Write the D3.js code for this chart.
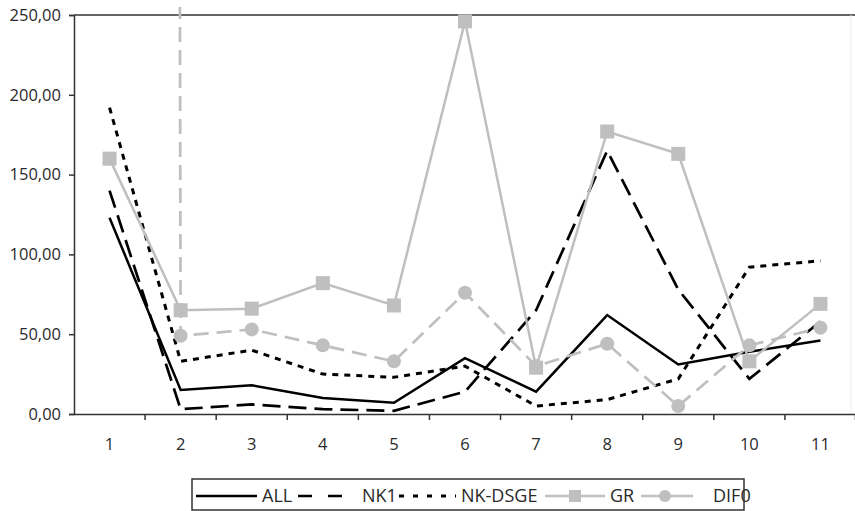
<!DOCTYPE html>
<html><head><meta charset="utf-8">
<script src="https://cdn.jsdelivr.net/npm/d3@7"></script>
<style>body{margin:0;background:#fff}svg{display:block}</style>
</head><body><svg id="c" width="855" height="511"></svg>
<script>
const categories = ["1","2","3","4","5","6","7","8","9","10","11"];
const ALL    = [123, 15, 18, 10, 7, 35, 14, 62, 31, 39, 46];
const NK1    = [140, 3, 6, 3, 2, 14, 65, 165, 78, 22, 58];
const NKDSGE = [192, 33, 40, 25, 23, 30, 5, 9, 22, 92, 96];
const GR     = [160, 65, 66, 82, 68, 246, 29, 177, 163, 33, 69];
const DIF0   = [20000, 49, 53, 43, 33, 76, 30, 44, 5, 43, 54];
const yTicks = [0, 50, 100, 150, 200, 250];
const seriesNames = ["ALL", "NK1", "NK-DSGE", "GR", "DIF0"];

const svg = d3.select("#c");
const font = "'Open Sans', sans-serif";
const L = 74, R = 856, T = 15, B = 414;
const x = d3.scaleBand().domain(categories).range([L, R]);
const y = d3.scaleLinear().domain([0, 250]).range([B, T]);
const fmt = v => d3.format(".2f")(v).replace(".", ",");

// top border
svg.append("line").attr("x1", L).attr("x2", 855).attr("y1", T).attr("y2", T)
  .attr("stroke", "#333").attr("stroke-width", 1.5);
svg.append("line").attr("x1", 851).attr("x2", 851).attr("y1", T).attr("y2", B)
  .attr("stroke", "#eee").attr("stroke-width", 1);

// Y axis
const ya = svg.append("g").attr("transform", `translate(${L},0)`)
  .call(d3.axisLeft(y).tickValues(yTicks).tickFormat(fmt).tickSize(5).tickPadding(8));
ya.select(".domain").attr("stroke", "#333").attr("stroke-width", 1.5);
ya.selectAll(".tick line").attr("stroke", "#333").attr("stroke-width", 1.5);
ya.selectAll("text").attr("font-family", font).attr("font-size", 16.5).attr("fill", "#2a2a2a");

// X axis
const xa = svg.append("g").attr("transform", `translate(0,${B})`)
  .call(d3.axisBottom(x).tickSize(0).tickPadding(24));
xa.select(".domain").attr("stroke", "#333").attr("stroke-width", 1.5);
xa.selectAll("text").attr("font-family", font).attr("font-size", 16.5).attr("fill", "#2a2a2a");
xa.selectAll(".bnd").data(categories.slice(1)).enter().append("line")
  .attr("x1", d => x(d)).attr("x2", d => x(d)).attr("y1", 0).attr("y2", 6)
  .attr("stroke", "#333").attr("stroke-width", 1.5);
xa.append("line").attr("x1", R - 0.5).attr("x2", R - 0.5).attr("y1", 0).attr("y2", 6)
  .attr("stroke", "#333").attr("stroke-width", 1.5);

svg.append("clipPath").attr("id", "clip").append("rect")
  .attr("x", 0).attr("y", 7).attr("width", 855).attr("height", 504);

const cx = (d, i) => x(categories[i]) + x.bandwidth() / 2;
const line = d3.line().x(cx).y(d => y(d));
const plot = svg.append("g").attr("clip-path", "url(#clip)");

const styles = [
  {data: ALL, color: "#000", w: 2.5, dash: null, marker: null},
  {data: NK1, color: "#000", w: 2.7, dash: "18,8", marker: null},
  {data: NKDSGE, color: "#000", w: 3, dash: "6,6", marker: null},
  {data: GR, color: "#bfbfbf", w: 2.5, dash: null, marker: "square"},
  {data: DIF0, color: "#bfbfbf", w: 2.7, dash: "15,8", marker: "circle"}
];
styles.forEach(s => {
  plot.append("path").datum(s.data).attr("d", line).attr("fill", "none")
    .attr("stroke", s.color).attr("stroke-width", s.w)
    .attr("stroke-dasharray", s.dash);
  if (s.marker === "square") {
    plot.selectAll(null).data(s.data).enter().append("rect")
      .attr("x", (d, i) => cx(d, i) - 7).attr("y", d => y(d) - 7)
      .attr("width", 14).attr("height", 14).attr("fill", s.color);
  } else if (s.marker === "circle") {
    plot.selectAll(null).data(s.data).enter().append("circle")
      .attr("cx", cx).attr("cy", d => y(d)).attr("r", 7).attr("fill", s.color);
  }
});

// Legend
const lg = svg.append("g");
lg.append("rect").attr("x", 192).attr("y", 479).attr("width", 552).attr("height", 31)
  .attr("fill", "#fff").attr("stroke", "#333").attr("stroke-width", 1.5);
const items = [
  {s: styles[0], x1: 196, x2: 257, tx: 262},
  {s: styles[1], x1: 298, x2: 344, tx: 362},
  {s: styles[2], x1: 399, x2: 456, tx: 461},
  {s: styles[3], x1: 545, x2: 605, tx: 610},
  {s: styles[4], x1: 641, x2: 693, tx: 713}
];
items.forEach((it, i) => {
  const yy = 496;
  lg.append("line").attr("x1", it.x1).attr("x2", it.x2).attr("y1", yy).attr("y2", yy)
    .attr("stroke", it.s.color).attr("stroke-width", it.s.w)
    .attr("stroke-dasharray", it.s.dash ? (i === 1 ? "14,16" : i === 2 ? "5,9" : null) : null);
  const mx = (it.x1 + it.x2) / 2;
  if (it.s.marker === "square") lg.append("rect").attr("x", mx - 6).attr("y", yy - 6).attr("width", 12).attr("height", 12).attr("fill", it.s.color);
  if (it.s.marker === "circle") lg.append("circle").attr("cx", mx - 2).attr("cy", yy).attr("r", 6).attr("fill", it.s.color);
  lg.append("text").attr("x", it.tx).attr("y", yy).attr("dy", "0.35em")
    .attr("font-family", font).attr("font-size", 18).attr("fill", "#2a2a2a").text(seriesNames[i]);
});
</script></body></html>
